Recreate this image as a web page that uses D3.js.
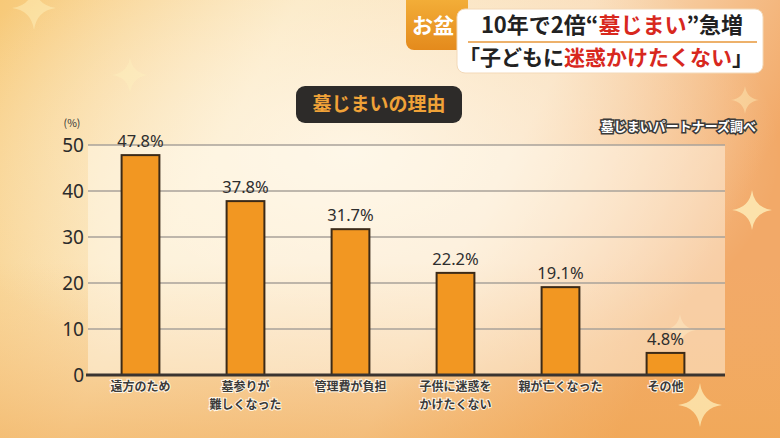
<!DOCTYPE html>
<html>
<head>
<meta charset="utf-8">
<script src="https://cdn.jsdelivr.net/npm/d3@7"></script>
<style>
  html, body { margin: 0; padding: 0; background: #f6c98a; }
  svg { display: block; font-family: "Noto Sans CJK JP", "Noto Sans", sans-serif; }
</style>
</head>
<body>
<svg id="chart" width="780" height="438"></svg>
<script>
// data
const reasons = ["遠方のため", "墓参りが\n難しくなった", "管理費が負担", "子供に迷惑を\nかけたくない", "親が亡くなった", "その他"];
const shares = [47.8, 37.8, 31.7, 22.2, 19.1, 4.8];
const yTicks = [0, 10, 20, 30, 40, 50];

const svg = d3.select("#chart");

// background
const defs = svg.append("defs");
const bg = defs.append("linearGradient").attr("id", "bg")
    .attr("x1", "0").attr("y1", "0").attr("x2", "1").attr("y2", "0.3");
bg.append("stop").attr("offset", "0").attr("stop-color", "#f7c978");
bg.append("stop").attr("offset", "0.35").attr("stop-color", "#fbe6bd");
bg.append("stop").attr("offset", "0.7").attr("stop-color", "#f9dcb8");
bg.append("stop").attr("offset", "1").attr("stop-color", "#f2a968");

const glow = defs.append("radialGradient").attr("id", "glow")
    .attr("cx", "0.45").attr("cy", "0.35").attr("r", "0.55");
glow.append("stop").attr("offset", "0").attr("stop-color", "#fff8ea").attr("stop-opacity", 0.85);
glow.append("stop").attr("offset", "1").attr("stop-color", "#fff8ea").attr("stop-opacity", 0);

const low = defs.append("linearGradient").attr("id", "low")
    .attr("x1", "0").attr("y1", "0").attr("x2", "0").attr("y2", "1");
low.append("stop").attr("offset", "0.6").attr("stop-color", "#f3b060").attr("stop-opacity", 0);
low.append("stop").attr("offset", "1").attr("stop-color", "#f0a850").attr("stop-opacity", 0.6);

const tagGrad = defs.append("linearGradient").attr("id", "tag")
    .attr("x1", "0").attr("y1", "0").attr("x2", "0").attr("y2", "1");
tagGrad.append("stop").attr("offset", "0").attr("stop-color", "#f5b33c");
tagGrad.append("stop").attr("offset", "1").attr("stop-color", "#e48a1c");

svg.append("rect").attr("width", 780).attr("height", 438).attr("fill", "url(#bg)");
svg.append("rect").attr("width", 780).attr("height", 438).attr("fill", "url(#glow)");
svg.append("rect").attr("width", 780).attr("height", 438).attr("fill", "url(#low)");

// sparkles
function sparkle(cx, cy, r, op) {
  const k = r * 0.12;
  const p = `M${cx},${cy - r} Q${cx + k},${cy - k} ${cx + r},${cy} Q${cx + k},${cy + k} ${cx},${cy + r} Q${cx - k},${cy + k} ${cx - r},${cy} Q${cx - k},${cy - k} ${cx},${cy - r}Z`;
  svg.append("path").attr("d", p).attr("fill", "#fff4c0").attr("opacity", op);
}
sparkle(34, 8, 22, 0.45);
sparkle(130, 75, 18, 0.35);
sparkle(752, 210, 20, 0.75);
sparkle(745, 100, 14, 0.4);
sparkle(700, 405, 22, 0.7);
sparkle(680, 330, 16, 0.35);

// scales
const x = d3.scaleBand().domain(reasons).range([88, 718]).paddingInner(0.64).paddingOuter(0.32);
const y = d3.scaleLinear().domain([0, 50]).range([375, 145]);

// plot panel
svg.append("rect")
    .attr("x", 88).attr("y", y(50))
    .attr("width", 637).attr("height", y(0) - y(50))
    .attr("fill", "#fffaf0").attr("opacity", 0.45);

// grid
svg.append("g").selectAll("line")
  .data(yTicks.filter(d => d > 0))
  .join("line")
    .attr("x1", 88).attr("x2", 725)
    .attr("y1", d => y(d)).attr("y2", d => y(d))
    .attr("stroke", "#a9a29a").attr("stroke-width", 1.6);

// y axis labels
const yAxis = svg.append("g")
    .attr("transform", "translate(84,0)")
    .call(d3.axisLeft(y).tickValues(yTicks).tickSize(0).tickPadding(0));
yAxis.select(".domain").remove();
yAxis.selectAll("text")
    .attr("font-family", "'Noto Sans', sans-serif")
    .attr("font-size", 19).attr("fill", "#2b2b2b");

svg.append("text").attr("x", 72).attr("y", 127)
    .attr("text-anchor", "middle")
    .attr("font-size", 10.5).attr("fill", "#333").text("(%)");

// bars
svg.append("g").selectAll("rect")
  .data(shares)
  .join("rect")
    .attr("x", (d, i) => x(reasons[i]))
    .attr("y", d => y(d))
    .attr("width", x.bandwidth())
    .attr("height", d => y(0) - y(d))
    .attr("fill", "#f29722")
    .attr("stroke", "#3b2a18").attr("stroke-width", 2);

// value labels
svg.append("g").selectAll("text")
  .data(shares)
  .join("text")
    .attr("x", (d, i) => x(reasons[i]) + x.bandwidth() / 2)
    .attr("y", d => y(d) - 8)
    .attr("text-anchor", "middle")
    .attr("font-family", "'Noto Sans', sans-serif")
    .attr("font-size", 16.5).attr("fill", "#2e2e2e")
    .text(d => d.toFixed(1) + "%");

// baseline
svg.append("line")
    .attr("x1", 86).attr("x2", 725)
    .attr("y1", y(0)).attr("y2", y(0))
    .attr("stroke", "#3a3430").attr("stroke-width", 3);

// x axis labels, one text per line
const lines = reasons.flatMap(r => r.split("\n").map((t, i) => ({ r, t, i })));
svg.append("g").selectAll("text")
  .data(lines)
  .join("text")
    .attr("x", d => x(d.r) + x.bandwidth() / 2)
    .attr("y", d => 391 + d.i * 17.5)
    .attr("text-anchor", "middle")
    .attr("font-size", 12).attr("font-weight", 700)
    .attr("fill", "#3a3a3a")
    .attr("stroke", "#fff6e6").attr("stroke-width", 2).attr("paint-order", "stroke")
    .text(d => d.t);

// chart title
svg.append("rect")
    .attr("x", 296).attr("y", 86).attr("width", 166).attr("height", 37)
    .attr("rx", 9).attr("fill", "#2d2b29");
svg.append("text")
    .attr("x", 379).attr("y", 111)
    .attr("text-anchor", "middle")
    .attr("font-size", 19).attr("font-weight", 700)
    .attr("fill", "#f0a238")
    .text("墓じまいの理由");

// source
svg.append("text")
    .attr("x", 756).attr("y", 131)
    .attr("text-anchor", "end")
    .attr("font-size", 13).attr("font-weight", 700)
    .attr("fill", "#fff").attr("stroke", "#3a3a3a").attr("stroke-width", 3)
    .attr("paint-order", "stroke")
    .text("墓じまいパートナーズ調べ");

// header tag
svg.append("rect")
    .attr("x", 406).attr("y", -8).attr("width", 62).attr("height", 58)
    .attr("rx", 8).attr("fill", "url(#tag)");
svg.append("text")
    .attr("x", 433).attr("y", 33)
    .attr("text-anchor", "middle")
    .attr("font-size", 21).attr("font-weight", 700)
    .attr("fill", "#fff")
    .text("お盆");

svg.append("rect")
    .attr("x", 457).attr("y", 9).attr("width", 306).attr("height", 64)
    .attr("rx", 8).attr("fill", "#fff")
    .attr("stroke", "#f3d9b8").attr("stroke-width", 1);
svg.append("line")
    .attr("x1", 468).attr("x2", 757).attr("y1", 42).attr("y2", 42)
    .attr("stroke", "#e7973a").attr("stroke-width", 1.5);

const h1 = svg.append("text")
    .attr("x", 612).attr("y", 33)
    .attr("text-anchor", "middle")
    .attr("font-size", 22).attr("font-weight", 700).attr("fill", "#222");
h1.append("tspan").text("10年で2倍“");
h1.append("tspan").attr("fill", "#d8281e").text("墓じまい");
h1.append("tspan").text("”急増");

const h2 = svg.append("text")
    .attr("x", 606).attr("y", 65)
    .attr("text-anchor", "middle")
    .attr("font-size", 21).attr("font-weight", 700).attr("fill", "#222");
h2.append("tspan").text("「子どもに");
h2.append("tspan").attr("fill", "#d8281e").text("迷惑かけたくない");
h2.append("tspan").text("」");
</script>
</body>
</html>
